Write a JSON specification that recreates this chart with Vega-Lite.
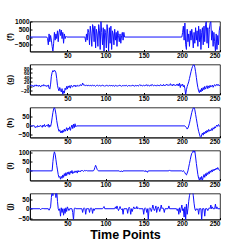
{
"$schema": "https://vega.github.io/schema/vega-lite/v6.json",
"padding": {"left": 4, "top": 17.5, "right": 0, "bottom": 0},
"spacing": 13,
"bounds": "flush",
"config": {
  "view": {"stroke": "black", "strokeWidth": 0.8},
  "font": "Liberation Sans",
  "axis": {"grid": false, "domainColor": "black", "domainWidth": 0.8, "labelFont": "Liberation Sans", "labelFontSize": 6.5, "labelFontWeight": "bold", "labelColor": "black", "tickColor": "black", "tickSize": -2, "labelPadding": 3, "format": "d", "labelOverlap": false, "titleFont": "Liberation Sans", "titleFontSize": 8, "titleFontWeight": "bold", "titleColor": "black"},
  "line": {"color": "#1010ff", "strokeWidth": 1, "clip": true}
},
"datasets": {
"f": [{"t":1,"v":0},{"t":23,"v":0},{"t":24,"v":-100},{"t":25,"v":-500},{"t":26,"v":200},{"t":27,"v":-300},{"t":28,"v":100},{"t":29,"v":-200},{"t":30,"v":-600},{"t":31,"v":-900},{"t":32,"v":-400},{"t":33,"v":300},{"t":34,"v":-200},{"t":35,"v":200},{"t":36,"v":-100},{"t":37,"v":400},{"t":38,"v":-300},{"t":39,"v":300},{"t":40,"v":500},{"t":41,"v":100},{"t":42,"v":450},{"t":43,"v":-100},{"t":44,"v":300},{"t":45,"v":-400},{"t":46,"v":200},{"t":47,"v":-100},{"t":48,"v":50},{"t":49,"v":0},{"t":73,"v":0},{"t":74,"v":-300},{"t":75,"v":200},{"t":76,"v":-200},{"t":77,"v":500},{"t":78,"v":300},{"t":79,"v":-500},{"t":80,"v":700},{"t":81,"v":200},{"t":82,"v":-600},{"t":83,"v":800},{"t":84,"v":600},{"t":85,"v":-300},{"t":86,"v":700},{"t":87,"v":-700},{"t":88,"v":500},{"t":89,"v":200},{"t":90,"v":-600},{"t":91,"v":800},{"t":92,"v":400},{"t":93,"v":-800},{"t":94,"v":1000},{"t":95,"v":300},{"t":96,"v":-500},{"t":97,"v":600},{"t":98,"v":-900},{"t":99,"v":500},{"t":100,"v":300},{"t":101,"v":-700},{"t":102,"v":800},{"t":103,"v":200},{"t":104,"v":-900},{"t":105,"v":600},{"t":106,"v":-400},{"t":107,"v":700},{"t":108,"v":-800},{"t":109,"v":400},{"t":110,"v":200},{"t":111,"v":-500},{"t":112,"v":500},{"t":113,"v":-200},{"t":114,"v":300},{"t":115,"v":-600},{"t":116,"v":400},{"t":117,"v":100},{"t":118,"v":-300},{"t":119,"v":200},{"t":120,"v":-400},{"t":121,"v":100},{"t":122,"v":300},{"t":123,"v":-200},{"t":124,"v":300},{"t":125,"v":0},{"t":200,"v":0},{"t":201,"v":300},{"t":202,"v":700},{"t":203,"v":-200},{"t":204,"v":900},{"t":205,"v":-500},{"t":206,"v":-800},{"t":207,"v":500},{"t":208,"v":-300},{"t":209,"v":200},{"t":210,"v":-600},{"t":211,"v":400},{"t":212,"v":-200},{"t":213,"v":500},{"t":214,"v":0},{"t":215,"v":-700},{"t":216,"v":300},{"t":217,"v":-400},{"t":218,"v":600},{"t":219,"v":-200},{"t":220,"v":400},{"t":221,"v":-600},{"t":222,"v":700},{"t":223,"v":-300},{"t":224,"v":500},{"t":225,"v":-800},{"t":226,"v":300},{"t":227,"v":600},{"t":228,"v":-500},{"t":229,"v":700},{"t":230,"v":-300},{"t":231,"v":800},{"t":232,"v":1000},{"t":233,"v":-400},{"t":234,"v":600},{"t":235,"v":-700},{"t":236,"v":500},{"t":237,"v":900},{"t":238,"v":1000},{"t":239,"v":-200},{"t":240,"v":400},{"t":241,"v":-600},{"t":242,"v":300},{"t":243,"v":-300},{"t":244,"v":-900},{"t":245,"v":200},{"t":246,"v":-800},{"t":247,"v":100},{"t":248,"v":-500},{"t":249,"v":400},{"t":250,"v":700}],
"g": [{"t":1,"v":5},{"t":2,"v":3},{"t":3,"v":6},{"t":4,"v":2},{"t":5,"v":4},{"t":6,"v":-2},{"t":7,"v":5},{"t":8,"v":3},{"t":9,"v":7},{"t":10,"v":1},{"t":11,"v":4},{"t":12,"v":0},{"t":13,"v":6},{"t":14,"v":2},{"t":15,"v":-3},{"t":16,"v":4},{"t":17,"v":5},{"t":18,"v":1},{"t":19,"v":8},{"t":20,"v":3},{"t":21,"v":2},{"t":22,"v":5},{"t":23,"v":-1},{"t":24,"v":4},{"t":25,"v":6},{"t":26,"v":-8},{"t":27,"v":-12},{"t":28,"v":10},{"t":29,"v":45},{"t":30,"v":62},{"t":31,"v":70},{"t":32,"v":65},{"t":33,"v":72},{"t":34,"v":68},{"t":35,"v":60},{"t":36,"v":35},{"t":37,"v":5},{"t":38,"v":-10},{"t":39,"v":-20},{"t":40,"v":-5},{"t":41,"v":-15},{"t":42,"v":-25},{"t":43,"v":-10},{"t":44,"v":-36},{"t":45,"v":-20},{"t":46,"v":-30},{"t":47,"v":-8},{"t":48,"v":-15},{"t":49,"v":0},{"t":50,"v":-12},{"t":51,"v":2},{"t":52,"v":-5},{"t":53,"v":3},{"t":54,"v":-8},{"t":55,"v":5},{"t":56,"v":0},{"t":57,"v":-3},{"t":58,"v":4},{"t":59,"v":1},{"t":60,"v":6},{"t":61,"v":-2},{"t":62,"v":3},{"t":63,"v":5},{"t":64,"v":0},{"t":65,"v":4},{"t":66,"v":2},{"t":67,"v":8},{"t":68,"v":3},{"t":69,"v":5},{"t":70,"v":15},{"t":71,"v":6},{"t":72,"v":4},{"t":73,"v":7},{"t":74,"v":3},{"t":75,"v":5},{"t":76,"v":2},{"t":77,"v":6},{"t":78,"v":4},{"t":79,"v":3},{"t":80,"v":5},{"t":81,"v":1},{"t":82,"v":4},{"t":83,"v":6},{"t":84,"v":2},{"t":85,"v":5},{"t":86,"v":3},{"t":87,"v":0},{"t":88,"v":4},{"t":89,"v":6},{"t":90,"v":3},{"t":91,"v":2},{"t":92,"v":5},{"t":93,"v":1},{"t":94,"v":4},{"t":95,"v":3},{"t":96,"v":6},{"t":97,"v":2},{"t":98,"v":4},{"t":99,"v":0},{"t":100,"v":3},{"t":101,"v":5},{"t":102,"v":2},{"t":103,"v":4},{"t":104,"v":1},{"t":105,"v":5},{"t":106,"v":3},{"t":107,"v":2},{"t":108,"v":6},{"t":109,"v":1},{"t":110,"v":4},{"t":111,"v":3},{"t":112,"v":0},{"t":113,"v":5},{"t":114,"v":2},{"t":115,"v":4},{"t":116,"v":1},{"t":117,"v":3},{"t":118,"v":6},{"t":119,"v":2},{"t":120,"v":4},{"t":121,"v":0},{"t":122,"v":3},{"t":123,"v":5},{"t":124,"v":1},{"t":125,"v":4},{"t":126,"v":2},{"t":127,"v":6},{"t":128,"v":3},{"t":129,"v":0},{"t":130,"v":4},{"t":131,"v":2},{"t":132,"v":5},{"t":133,"v":1},{"t":134,"v":3},{"t":135,"v":6},{"t":136,"v":2},{"t":137,"v":4},{"t":138,"v":0},{"t":139,"v":5},{"t":140,"v":3},{"t":141,"v":2},{"t":142,"v":6},{"t":143,"v":1},{"t":144,"v":4},{"t":145,"v":8},{"t":146,"v":3},{"t":147,"v":5},{"t":148,"v":1},{"t":149,"v":4},{"t":150,"v":6},{"t":151,"v":2},{"t":152,"v":5},{"t":153,"v":3},{"t":154,"v":8},{"t":155,"v":2},{"t":156,"v":5},{"t":157,"v":4},{"t":158,"v":1},{"t":159,"v":6},{"t":160,"v":3},{"t":161,"v":9},{"t":162,"v":4},{"t":163,"v":2},{"t":164,"v":6},{"t":165,"v":3},{"t":166,"v":5},{"t":167,"v":1},{"t":168,"v":7},{"t":169,"v":3},{"t":170,"v":5},{"t":171,"v":2},{"t":172,"v":8},{"t":173,"v":4},{"t":174,"v":6},{"t":175,"v":2},{"t":176,"v":9},{"t":177,"v":3},{"t":178,"v":6},{"t":179,"v":4},{"t":180,"v":10},{"t":181,"v":5},{"t":182,"v":8},{"t":183,"v":3},{"t":184,"v":7},{"t":185,"v":12},{"t":186,"v":4},{"t":187,"v":8},{"t":188,"v":2},{"t":189,"v":10},{"t":190,"v":5},{"t":191,"v":7},{"t":192,"v":3},{"t":193,"v":9},{"t":194,"v":4},{"t":195,"v":11},{"t":196,"v":2},{"t":197,"v":14},{"t":198,"v":-5},{"t":199,"v":8},{"t":200,"v":3},{"t":201,"v":10},{"t":202,"v":-2},{"t":203,"v":5},{"t":204,"v":-10},{"t":205,"v":-36},{"t":206,"v":-15},{"t":207,"v":0},{"t":208,"v":10},{"t":209,"v":20},{"t":210,"v":35},{"t":211,"v":50},{"t":212,"v":65},{"t":213,"v":78},{"t":214,"v":88},{"t":215,"v":95},{"t":216,"v":97},{"t":217,"v":85},{"t":218,"v":65},{"t":219,"v":40},{"t":220,"v":15},{"t":221,"v":-5},{"t":222,"v":-20},{"t":223,"v":-28},{"t":224,"v":-15},{"t":225,"v":-25},{"t":226,"v":-8},{"t":227,"v":-20},{"t":228,"v":-5},{"t":229,"v":-15},{"t":230,"v":0},{"t":231,"v":-12},{"t":232,"v":-5},{"t":233,"v":3},{"t":234,"v":-10},{"t":235,"v":2},{"t":236,"v":-6},{"t":237,"v":5},{"t":238,"v":-3},{"t":239,"v":0},{"t":240,"v":6},{"t":241,"v":-4},{"t":242,"v":3},{"t":243,"v":8},{"t":244,"v":1},{"t":245,"v":5},{"t":246,"v":10},{"t":247,"v":4},{"t":248,"v":8},{"t":249,"v":2},{"t":250,"v":6}],
"h": [{"t":1,"v":0},{"t":2,"v":2},{"t":3,"v":-3},{"t":4,"v":1},{"t":5,"v":-2},{"t":6,"v":3},{"t":7,"v":-5},{"t":8,"v":-10},{"t":9,"v":-3},{"t":10,"v":-8},{"t":11,"v":2},{"t":12,"v":-6},{"t":13,"v":0},{"t":14,"v":-4},{"t":15,"v":3},{"t":16,"v":-2},{"t":17,"v":-8},{"t":18,"v":5},{"t":19,"v":-3},{"t":20,"v":8},{"t":21,"v":-5},{"t":22,"v":0},{"t":23,"v":4},{"t":24,"v":-2},{"t":25,"v":10},{"t":26,"v":-8},{"t":27,"v":5},{"t":28,"v":-3},{"t":29,"v":15},{"t":30,"v":45},{"t":31,"v":75},{"t":32,"v":95},{"t":33,"v":103},{"t":34,"v":90},{"t":35,"v":65},{"t":36,"v":30},{"t":37,"v":5},{"t":38,"v":-15},{"t":39,"v":-30},{"t":40,"v":-22},{"t":41,"v":-38},{"t":42,"v":-28},{"t":43,"v":-40},{"t":44,"v":-25},{"t":45,"v":-35},{"t":46,"v":-18},{"t":47,"v":-30},{"t":48,"v":-22},{"t":49,"v":-10},{"t":50,"v":-28},{"t":51,"v":-12},{"t":52,"v":-20},{"t":53,"v":-5},{"t":54,"v":-25},{"t":55,"v":-8},{"t":56,"v":5},{"t":57,"v":-15},{"t":58,"v":10},{"t":59,"v":-10},{"t":60,"v":12},{"t":61,"v":-5},{"t":62,"v":0},{"t":204,"v":0},{"t":205,"v":-5},{"t":206,"v":-10},{"t":207,"v":-18},{"t":208,"v":-12},{"t":209,"v":0},{"t":210,"v":15},{"t":211,"v":35},{"t":212,"v":55},{"t":213,"v":75},{"t":214,"v":90},{"t":215,"v":100},{"t":216,"v":103},{"t":217,"v":90},{"t":218,"v":65},{"t":219,"v":40},{"t":220,"v":15},{"t":221,"v":-10},{"t":222,"v":-30},{"t":223,"v":-45},{"t":224,"v":-60},{"t":225,"v":-65},{"t":226,"v":-50},{"t":227,"v":-40},{"t":228,"v":-52},{"t":229,"v":-35},{"t":230,"v":-45},{"t":231,"v":-30},{"t":232,"v":-40},{"t":233,"v":-25},{"t":234,"v":-35},{"t":235,"v":-20},{"t":236,"v":-30},{"t":237,"v":-22},{"t":238,"v":-28},{"t":239,"v":-15},{"t":240,"v":-25},{"t":241,"v":-10},{"t":242,"v":-18},{"t":243,"v":-5},{"t":244,"v":-12},{"t":245,"v":0},{"t":246,"v":5},{"t":247,"v":-3},{"t":248,"v":8},{"t":249,"v":2},{"t":250,"v":-5}],
"i": [{"t":1,"v":0},{"t":30,"v":0},{"t":31,"v":50},{"t":32,"v":85},{"t":33,"v":103},{"t":34,"v":90},{"t":35,"v":60},{"t":36,"v":30},{"t":37,"v":5},{"t":38,"v":-20},{"t":39,"v":-35},{"t":40,"v":-30},{"t":41,"v":-45},{"t":42,"v":-30},{"t":43,"v":-40},{"t":44,"v":-22},{"t":45,"v":-35},{"t":46,"v":-15},{"t":47,"v":-28},{"t":48,"v":-10},{"t":49,"v":-25},{"t":50,"v":-8},{"t":51,"v":-18},{"t":52,"v":-5},{"t":53,"v":-20},{"t":54,"v":-3},{"t":55,"v":-12},{"t":56,"v":2},{"t":57,"v":-15},{"t":58,"v":-5},{"t":59,"v":-10},{"t":60,"v":0},{"t":61,"v":-8},{"t":62,"v":0},{"t":63,"v":-12},{"t":64,"v":2},{"t":65,"v":-6},{"t":66,"v":0},{"t":67,"v":-5},{"t":68,"v":3},{"t":69,"v":0},{"t":70,"v":2},{"t":71,"v":-3},{"t":72,"v":0},{"t":73,"v":4},{"t":74,"v":0},{"t":75,"v":2},{"t":76,"v":0},{"t":84,"v":0},{"t":85,"v":5},{"t":86,"v":18},{"t":87,"v":30},{"t":88,"v":20},{"t":89,"v":8},{"t":90,"v":2},{"t":91,"v":0},{"t":118,"v":0},{"t":119,"v":-5},{"t":120,"v":-2},{"t":121,"v":0},{"t":122,"v":-6},{"t":123,"v":0},{"t":150,"v":0},{"t":151,"v":-3},{"t":152,"v":2},{"t":153,"v":-5},{"t":154,"v":0},{"t":155,"v":-8},{"t":156,"v":0},{"t":183,"v":0},{"t":184,"v":5},{"t":185,"v":0},{"t":200,"v":0},{"t":201,"v":-3},{"t":202,"v":2},{"t":203,"v":-5},{"t":204,"v":-10},{"t":205,"v":-18},{"t":206,"v":-22},{"t":207,"v":-12},{"t":208,"v":0},{"t":209,"v":20},{"t":210,"v":40},{"t":211,"v":60},{"t":212,"v":80},{"t":213,"v":95},{"t":214,"v":100},{"t":215,"v":110},{"t":216,"v":100},{"t":217,"v":108},{"t":218,"v":75},{"t":219,"v":40},{"t":220,"v":10},{"t":221,"v":-20},{"t":222,"v":-40},{"t":223,"v":-50},{"t":224,"v":-35},{"t":225,"v":-48},{"t":226,"v":-30},{"t":227,"v":-50},{"t":228,"v":-35},{"t":229,"v":-20},{"t":230,"v":-35},{"t":231,"v":-15},{"t":232,"v":-28},{"t":233,"v":-10},{"t":234,"v":-20},{"t":235,"v":-5},{"t":236,"v":-15},{"t":237,"v":0},{"t":238,"v":-8},{"t":239,"v":5},{"t":240,"v":-5},{"t":241,"v":8},{"t":242,"v":0},{"t":243,"v":10},{"t":244,"v":5},{"t":245,"v":15},{"t":246,"v":8},{"t":247,"v":18},{"t":248,"v":10},{"t":249,"v":5},{"t":250,"v":0}],
"j": [{"t":1,"v":0},{"t":14,"v":0},{"t":15,"v":-5},{"t":16,"v":0},{"t":17,"v":0},{"t":18,"v":3},{"t":19,"v":0},{"t":25,"v":0},{"t":26,"v":-8},{"t":27,"v":0},{"t":28,"v":10},{"t":29,"v":60},{"t":30,"v":100},{"t":31,"v":70},{"t":32,"v":100},{"t":33,"v":85},{"t":34,"v":100},{"t":35,"v":60},{"t":36,"v":100},{"t":37,"v":40},{"t":38,"v":0},{"t":39,"v":-10},{"t":40,"v":0},{"t":41,"v":-40},{"t":42,"v":5},{"t":43,"v":-20},{"t":44,"v":0},{"t":45,"v":-35},{"t":46,"v":0},{"t":47,"v":-25},{"t":48,"v":5},{"t":49,"v":-15},{"t":50,"v":10},{"t":51,"v":0},{"t":52,"v":-10},{"t":53,"v":0},{"t":56,"v":0},{"t":57,"v":-20},{"t":58,"v":-60},{"t":59,"v":0},{"t":60,"v":5},{"t":61,"v":0},{"t":69,"v":0},{"t":70,"v":-20},{"t":71,"v":0},{"t":72,"v":5},{"t":73,"v":0},{"t":74,"v":-30},{"t":75,"v":0},{"t":78,"v":0},{"t":79,"v":-20},{"t":80,"v":0},{"t":81,"v":5},{"t":82,"v":0},{"t":83,"v":-25},{"t":84,"v":0},{"t":85,"v":-10},{"t":86,"v":0},{"t":96,"v":0},{"t":97,"v":5},{"t":98,"v":12},{"t":99,"v":0},{"t":112,"v":0},{"t":113,"v":10},{"t":114,"v":0},{"t":115,"v":15},{"t":116,"v":0},{"t":117,"v":-10},{"t":118,"v":0},{"t":119,"v":12},{"t":120,"v":0},{"t":121,"v":-5},{"t":122,"v":0},{"t":123,"v":-30},{"t":124,"v":0},{"t":128,"v":0},{"t":129,"v":-25},{"t":130,"v":0},{"t":131,"v":8},{"t":132,"v":0},{"t":133,"v":-30},{"t":134,"v":0},{"t":135,"v":-15},{"t":136,"v":0},{"t":137,"v":10},{"t":138,"v":0},{"t":139,"v":5},{"t":140,"v":0},{"t":141,"v":12},{"t":142,"v":0},{"t":143,"v":5},{"t":144,"v":0},{"t":149,"v":0},{"t":150,"v":-30},{"t":151,"v":0},{"t":152,"v":5},{"t":153,"v":0},{"t":154,"v":-20},{"t":155,"v":0},{"t":156,"v":-60},{"t":157,"v":0},{"t":158,"v":5},{"t":159,"v":0},{"t":160,"v":-15},{"t":161,"v":0},{"t":162,"v":20},{"t":163,"v":0},{"t":164,"v":-10},{"t":165,"v":0},{"t":166,"v":15},{"t":167,"v":-20},{"t":168,"v":0},{"t":169,"v":10},{"t":170,"v":0},{"t":171,"v":-15},{"t":172,"v":0},{"t":173,"v":20},{"t":174,"v":0},{"t":175,"v":5},{"t":176,"v":0},{"t":177,"v":-20},{"t":178,"v":0},{"t":182,"v":0},{"t":183,"v":15},{"t":184,"v":0},{"t":193,"v":0},{"t":194,"v":-10},{"t":195,"v":0},{"t":196,"v":-30},{"t":197,"v":5},{"t":198,"v":-20},{"t":199,"v":0},{"t":200,"v":20},{"t":201,"v":-10},{"t":202,"v":0},{"t":203,"v":-45},{"t":204,"v":10},{"t":205,"v":-60},{"t":206,"v":25},{"t":207,"v":-30},{"t":208,"v":0},{"t":209,"v":40},{"t":210,"v":70},{"t":211,"v":90},{"t":212,"v":100},{"t":213,"v":85},{"t":214,"v":100},{"t":215,"v":70},{"t":216,"v":30},{"t":217,"v":0},{"t":218,"v":-10},{"t":219,"v":0},{"t":220,"v":-5},{"t":221,"v":0},{"t":222,"v":-30},{"t":223,"v":0},{"t":225,"v":0},{"t":226,"v":-60},{"t":227,"v":0},{"t":229,"v":0},{"t":230,"v":-40},{"t":231,"v":0},{"t":233,"v":0},{"t":234,"v":-10},{"t":235,"v":0},{"t":236,"v":5},{"t":237,"v":0},{"t":238,"v":20},{"t":239,"v":0},{"t":240,"v":10},{"t":241,"v":0},{"t":243,"v":0},{"t":244,"v":25},{"t":245,"v":0},{"t":246,"v":10},{"t":247,"v":0},{"t":250,"v":0}]
},
"vconcat": [
{"width":190,"height":30,"data":{"name":"f"},"mark":{"type":"line","clip":true},
 "encoding":{"x":{"field":"t","type":"quantitative","scale":{"domain":[1,250],"nice":false,"zero":false},"axis":{"values":[50,100,150,200,250],"title":null}},
 "y":{"field":"v","type":"quantitative","scale":{"domain":[-930,1000],"nice":false,"zero":false},"axis":{"values":[-500,0,500,1000],"title":"(f)","titleX":-17}}}},
{"width":190,"height":30,"data":{"name":"g"},"mark":{"type":"line","clip":true},
 "encoding":{"x":{"field":"t","type":"quantitative","scale":{"domain":[1,250],"nice":false,"zero":false},"axis":{"values":[50,100,150,200,250],"title":null}},
 "y":{"field":"v","type":"quantitative","scale":{"domain":[-36,97],"nice":false,"zero":false},"axis":{"values":[-20,0,20,40,60,80],"labelFontSize":5,"title":"(g)","titleX":-17}}}},
{"width":190,"height":30,"data":{"name":"h"},"mark":{"type":"line","clip":true},
 "encoding":{"x":{"field":"t","type":"quantitative","scale":{"domain":[1,250],"nice":false,"zero":false},"axis":{"values":[50,100,150,200,250],"title":null}},
 "y":{"field":"v","type":"quantitative","scale":{"domain":[-65,103],"nice":false,"zero":false},"axis":{"values":[-50,0,50],"title":"(h)","titleX":-17}}}},
{"width":190,"height":30,"data":{"name":"i"},"mark":{"type":"line","clip":true},
 "encoding":{"x":{"field":"t","type":"quantitative","scale":{"domain":[1,250],"nice":false,"zero":false},"axis":{"values":[50,100,150,200,250],"title":null}},
 "y":{"field":"v","type":"quantitative","scale":{"domain":[-52,110],"nice":false,"zero":false},"axis":{"values":[0,50,100],"title":"(i)","titleX":-17}}}},
{"width":190,"height":26,"data":{"name":"j"},"mark":{"type":"line","clip":true},
 "encoding":{"x":{"field":"t","type":"quantitative","scale":{"domain":[1,250],"nice":false,"zero":false},"axis":{"values":[50,100,150,200,250],"title":"Time Points","titleFontSize":12.5,"titlePadding":1}},
 "y":{"field":"v","type":"quantitative","scale":{"domain":[-58,82],"nice":false,"zero":false},"axis":{"values":[-50,0,50],"title":"(j)","titleX":-17}}}}
]
}
